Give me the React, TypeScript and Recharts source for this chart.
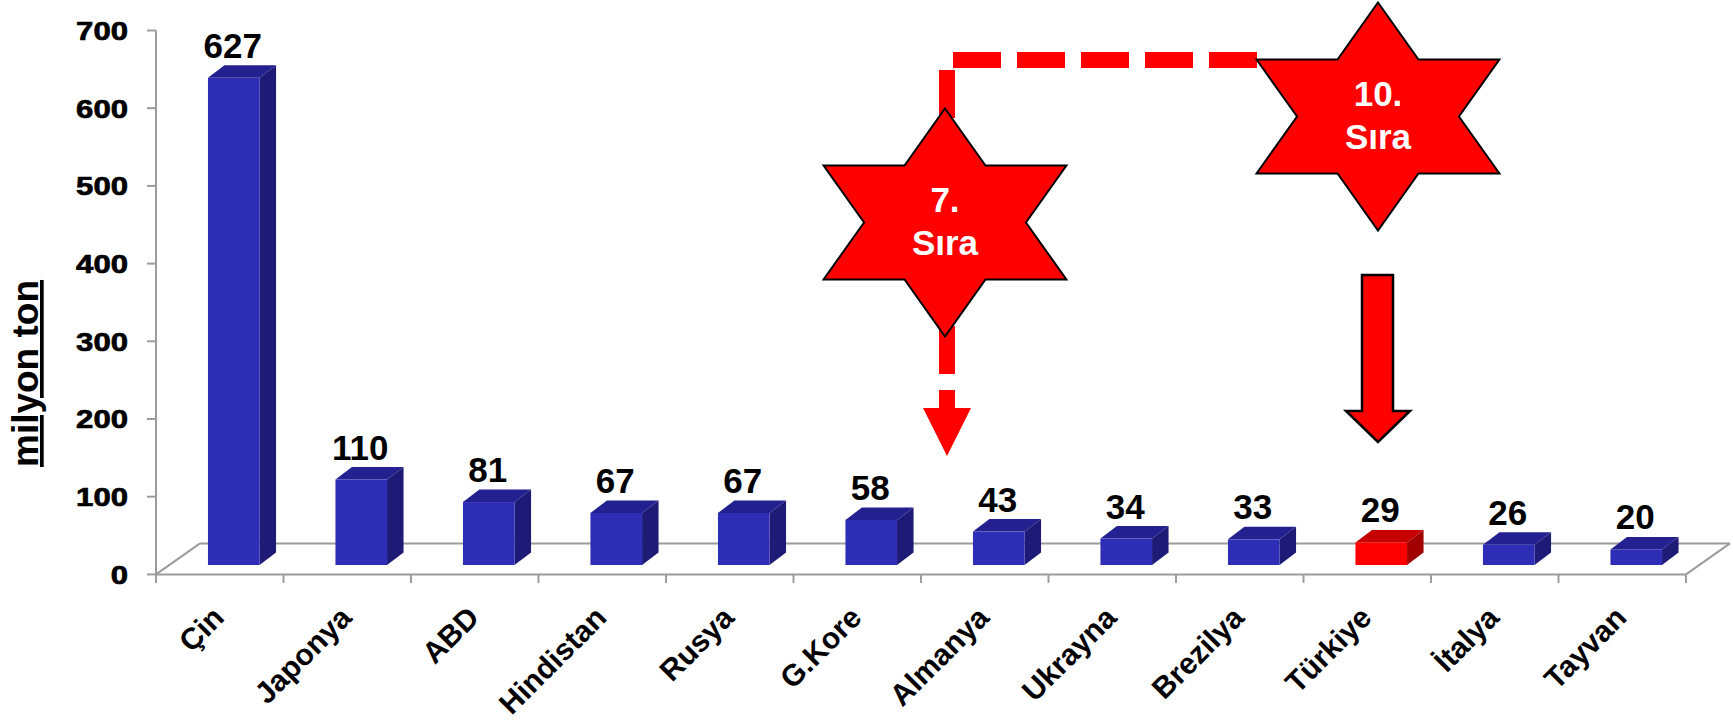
import { BarChart, Bar, XAxis, YAxis, LabelList, Cell } from 'recharts';

const COUNTRIES = ['Çin', 'Japonya', 'ABD', 'Hindistan', 'Rusya', 'G.Kore', 'Almanya', 'Ukrayna', 'Brezilya', 'Türkiye', 'İtalya', 'Tayvan'];
const PRODUCTION = [627, 110, 81, 67, 67, 58, 43, 34, 33, 29, 26, 20];
const HIGHLIGHT = 'Türkiye';
const Y_TICKS = [0, 100, 200, 300, 400, 500, 600, 700];

const data = COUNTRIES.map((name, i) => ({ name, value: PRODUCTION[i] }));

const W = 1733;
const H = 721;
const PLOT_LEFT = 156;
const PLOT_RIGHT = 1686;
const PLOT_TOP = 30.5;
const PLOT_BOTTOM = 574.4;
const BAND = (PLOT_RIGHT - PLOT_LEFT) / COUNTRIES.length;
const DEPTH_X = 44;
const DEPTH_Y = 31;

// 3d bar look
const FACE_W = 51.6;
const FACE_SHIFT = 13.75;
const LIFT = 9.4;
const SIDE_X = 16.5;
const SIDE_Y = 12.5;

const FONT = '"Liberation Sans", Arial, sans-serif';
const GRID = '#9c9c9c';

const BLUE = { front: '#2E2DB5', side: '#1D1B76', top: '#23208F' };
const RED = { front: '#FF0000', side: '#A20000', top: '#C60000' };

function Bar3D(props: any) {
  const { x, y, width, height, payload } = props;
  const c = payload.name === HIGHLIGHT ? RED : BLUE;
  const cx = x + width / 2 + FACE_SHIFT;
  const l = cx - FACE_W / 2;
  const r = cx + FACE_W / 2;
  const t = y - LIFT;
  const b = y + height - LIFT;
  return (
    <g>
      <polygon points={`${r},${t} ${r + SIDE_X},${t - SIDE_Y} ${r + SIDE_X},${b - SIDE_Y} ${r},${b}`} fill={c.side} />
      <polygon points={`${l},${t} ${l + SIDE_X},${t - SIDE_Y} ${r + SIDE_X},${t - SIDE_Y} ${r},${t}`} fill={c.top} />
      <rect x={l} y={t} width={FACE_W} height={b - t} fill={c.front} />
    </g>
  );
}

function ValueLabel(props: any) {
  const { x, y, width, value } = props;
  return (
    <text x={x + width / 2 + FACE_SHIFT - 1} y={y - LIFT - 20} textAnchor="middle"
      fontFamily={FONT} fontWeight="bold" fontSize={35} fill="#000">
      {value}
    </text>
  );
}

function YTick(props: any) {
  const { x, y, payload } = props;
  const s = String(payload.value);
  return (
    <text x={x} y={y} dy="0.36em" textAnchor="end" fontFamily={FONT} fontWeight="bold"
      fontSize={26} fill="#000" stroke="#000" strokeWidth={0.7}
      textLength={s.length * 17.3} lengthAdjust="spacingAndGlyphs">
      {s}
    </text>
  );
}

function XTick(props: any) {
  const { x, y, payload, index } = props;
  const lx = x + 6;
  const ly = y + 45;
  return (
    <g>
      <line x1={x - BAND / 2} y1={y} x2={x - BAND / 2} y2={y + 8.5} stroke={GRID} strokeWidth={2} />
      {index === COUNTRIES.length - 1 && (
        <line x1={x + BAND / 2} y1={y} x2={x + BAND / 2} y2={y + 8.5} stroke={GRID} strokeWidth={2} />
      )}
      <text x={lx} y={ly} transform={`rotate(-45 ${lx} ${ly})`} textAnchor="end"
        fontFamily={FONT} fontWeight="bold" fontSize={30} fill="#000">
        {payload.value}
      </text>
    </g>
  );
}

function star(cx: number, cy: number, R: number, sx: number) {
  const pts: string[] = [];
  for (let k = 0; k < 12; k++) {
    const ang = (-90 + k * 30) * Math.PI / 180;
    const rr = k % 2 === 0 ? R : R / Math.sqrt(3);
    pts.push(`${cx + Math.cos(ang) * rr * sx},${cy + Math.sin(ang) * rr}`);
  }
  return pts.join(' ');
}

function Badge({ cx, cy, rank }: { cx: number; cy: number; rank: string }) {
  return (
    <g>
      <polygon points={star(cx, cy, 114, 1.23)} fill="#FF0000" stroke="#000" strokeWidth={2} strokeLinejoin="miter" />
      <text x={cx} y={cy - 11} textAnchor="middle" fontFamily={FONT} fontWeight="bold" fontSize={35} fill="#fff">{rank}</text>
      <text x={cx} y={cy + 32.5} textAnchor="middle" fontFamily={FONT} fontWeight="bold" fontSize={35} fill="#fff">Sıra</text>
    </g>
  );
}

export default function App() {
  return (
    <div style={{ position: 'absolute', left: 0, top: 0, width: W, height: H, background: '#fff' }}>
      {/* floor behind the bars */}
      <svg width={W} height={H} style={{ position: 'absolute', left: 0, top: 0 }}>
        <line x1={PLOT_LEFT + DEPTH_X} y1={PLOT_BOTTOM - DEPTH_Y} x2={PLOT_RIGHT + DEPTH_X} y2={PLOT_BOTTOM - DEPTH_Y} stroke={GRID} strokeWidth={2} />
        <line x1={PLOT_LEFT} y1={PLOT_BOTTOM} x2={PLOT_LEFT + DEPTH_X} y2={PLOT_BOTTOM - DEPTH_Y} stroke={GRID} strokeWidth={2} />
        <line x1={PLOT_RIGHT} y1={PLOT_BOTTOM} x2={PLOT_RIGHT + DEPTH_X} y2={PLOT_BOTTOM - DEPTH_Y} stroke={GRID} strokeWidth={2} />
      </svg>

      <div style={{ position: 'absolute', left: 0, top: 0 }}>
        <BarChart width={W} height={H} data={data}
          margin={{ top: PLOT_TOP, right: W - PLOT_RIGHT, left: PLOT_LEFT - 100, bottom: H - PLOT_BOTTOM - 60 }}>
          <XAxis dataKey="name" height={60} interval={0} axisLine={{ stroke: GRID, strokeWidth: 2 }}
            tickLine={false} tickSize={0} tickMargin={0} tick={<XTick />} />
          <YAxis width={100} domain={[0, 700]} ticks={Y_TICKS} interval={0}
            axisLine={{ stroke: GRID, strokeWidth: 2 }} tickLine={{ stroke: GRID, strokeWidth: 2 }}
            tickSize={9} tickMargin={19} tick={<YTick />}
            label={{
              content: () => (
                <text x={38} y={373.5} transform="rotate(-90 38 373.5)" textAnchor="middle"
                  fontFamily={FONT} fontWeight="bold" fontSize={37} fill="#000" textDecoration="underline">
                  milyon ton
                </text>
              ),
            }} />
          <Bar dataKey="value" barSize={52} shape={<Bar3D />} isAnimationActive={false}>
            {data.map(d => (
              <Cell key={d.name} fill={d.name === HIGHLIGHT ? RED.front : BLUE.front} />
            ))}
            <LabelList dataKey="value" content={<ValueLabel />} />
          </Bar>
        </BarChart>
      </div>

      {/* rank annotations */}
      <svg width={W} height={H} style={{ position: 'absolute', left: 0, top: 0, pointerEvents: 'none' }}>
        <path d="M 1257 60 H 947 V 412" fill="none" stroke="#FF0000" strokeWidth={16} strokeDasharray="48 16" strokeLinecap="butt" />
        <polygon points="923,408 971,408 947,456" fill="#FF0000" />
        <Badge cx={945} cy={222.5} rank="7." />
        <Badge cx={1378} cy={116.5} rank="10." />
        <polygon points="1362,275 1393,275 1393,411 1410,411 1378,442 1346,411 1362,411"
          fill="#FF0000" stroke="#000" strokeWidth={2.5} />
      </svg>
    </div>
  );
}
